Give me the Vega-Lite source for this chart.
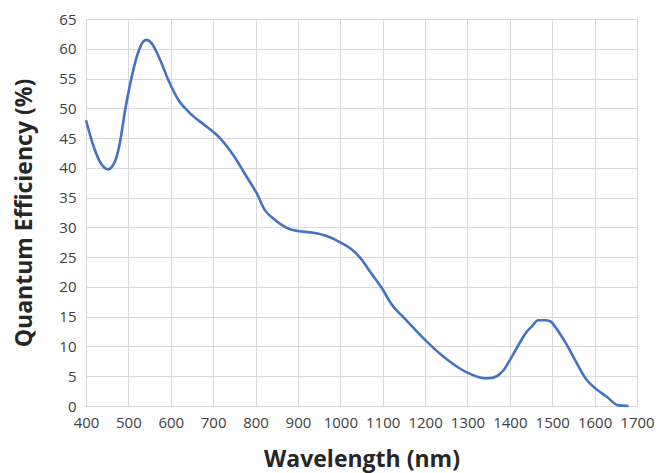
{
  "$schema": "https://vega.github.io/schema/vega-lite/v6.json",
  "autosize": {"type": "none"},
  "width": 551,
  "height": 387,
  "padding": {"left": 86, "top": 19, "right": 30, "bottom": 67},
  "background": "white",
  "config": {
    "view": {"stroke": "#d9d9d9", "strokeWidth": 1},
    "axis": {
      "labelFont": "Open Sans",
      "titleFont": "Open Sans",
      "labelFontSize": 15,
      "labelColor": "#404040",
      "titleColor": "#262626",
      "titleFontSize": 23,
      "titleFontWeight": "bold",
      "gridColor": "#d9d9d9",
      "gridWidth": 1,
      "gridOpacity": 1,
      "domainColor": "#d9d9d9",
      "ticks": false
    }
  },
  "data": {
    "values": [
      {"wl": 400, "qe": 48.0},
      {"wl": 417, "qe": 43.8},
      {"wl": 433, "qe": 41.0},
      {"wl": 452, "qe": 39.75},
      {"wl": 468, "qe": 41.0},
      {"wl": 480, "qe": 44.2},
      {"wl": 492, "qe": 49.6},
      {"wl": 504, "qe": 54.0},
      {"wl": 520, "qe": 58.7},
      {"wl": 535, "qe": 61.2},
      {"wl": 543, "qe": 61.5},
      {"wl": 555, "qe": 60.9},
      {"wl": 575, "qe": 58.1},
      {"wl": 594, "qe": 54.8},
      {"wl": 618, "qe": 51.4},
      {"wl": 645, "qe": 49.2},
      {"wl": 685, "qe": 46.9},
      {"wl": 716, "qe": 45.0},
      {"wl": 747, "qe": 42.2},
      {"wl": 779, "qe": 38.5},
      {"wl": 803, "qe": 35.7},
      {"wl": 822, "qe": 32.9},
      {"wl": 842, "qe": 31.5},
      {"wl": 858, "qe": 30.6},
      {"wl": 881, "qe": 29.7},
      {"wl": 900, "qe": 29.4},
      {"wl": 936, "qe": 29.1},
      {"wl": 968, "qe": 28.55},
      {"wl": 1000, "qe": 27.5},
      {"wl": 1025, "qe": 26.4},
      {"wl": 1048, "qe": 24.8},
      {"wl": 1070, "qe": 22.6},
      {"wl": 1097, "qe": 19.9},
      {"wl": 1121, "qe": 17.1},
      {"wl": 1156, "qe": 14.4},
      {"wl": 1200, "qe": 11.1},
      {"wl": 1243, "qe": 8.3},
      {"wl": 1282, "qe": 6.3},
      {"wl": 1300, "qe": 5.6},
      {"wl": 1329, "qe": 4.8},
      {"wl": 1349, "qe": 4.65},
      {"wl": 1369, "qe": 5.0},
      {"wl": 1385, "qe": 6.0},
      {"wl": 1400, "qe": 7.7},
      {"wl": 1420, "qe": 10.2},
      {"wl": 1440, "qe": 12.5},
      {"wl": 1451, "qe": 13.3},
      {"wl": 1467, "qe": 14.4},
      {"wl": 1483, "qe": 14.4},
      {"wl": 1496, "qe": 14.2},
      {"wl": 1510, "qe": 13.0},
      {"wl": 1530, "qe": 10.8},
      {"wl": 1554, "qe": 7.7},
      {"wl": 1581, "qe": 4.4},
      {"wl": 1601, "qe": 3.0},
      {"wl": 1628, "qe": 1.6},
      {"wl": 1656, "qe": 0.1},
      {"wl": 1680, "qe": 0.0}
    ]
  },
  "mark": {"type": "line", "color": "#4472C4", "strokeWidth": 2.6, "interpolate": "monotone"},
  "encoding": {
    "x": {
      "field": "wl",
      "type": "quantitative",
      "title": "Wavelength (nm)",
      "scale": {"domain": [400, 1700], "nice": false, "zero": false},
      "axis": {"values": [400,500,600,700,800,900,1000,1100,1200,1300,1400,1500,1600,1700], "format": "d", "labelPadding": 9, "titlePadding": 18, "labelFlush": false}
    },
    "y": {
      "field": "qe",
      "type": "quantitative",
      "title": "Quantum Efficiency (%)",
      "scale": {"domain": [0, 65], "nice": false},
      "axis": {"values": [0,5,10,15,20,25,30,35,40,45,50,55,60,65], "labelPadding": 10, "titlePadding": 22}
    }
  }
}
